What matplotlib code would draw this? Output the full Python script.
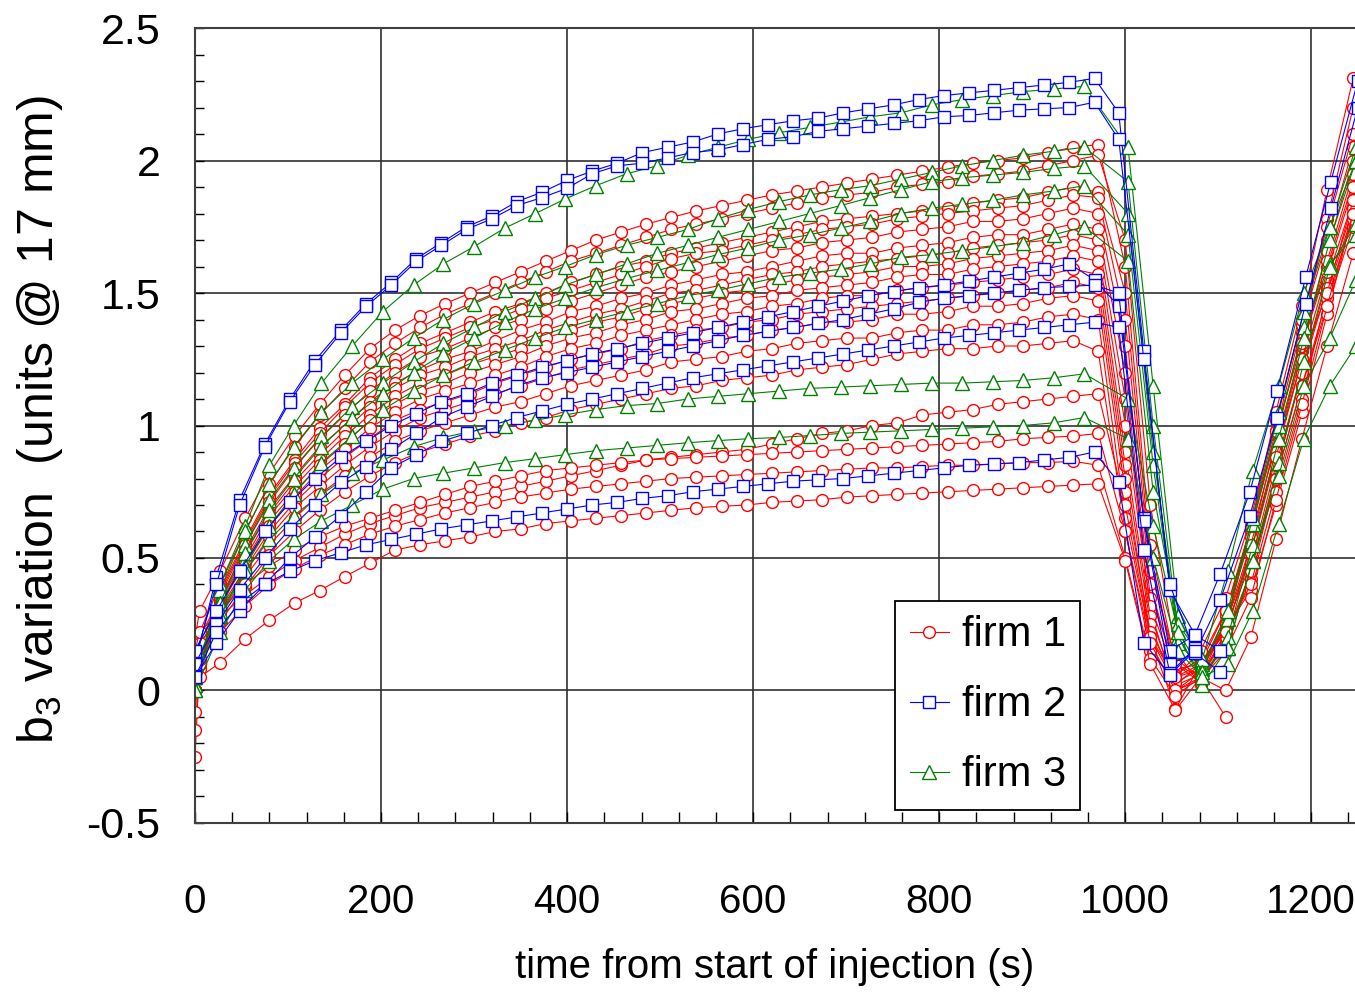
import numpy as np
import matplotlib
matplotlib.use("Agg")
import matplotlib.pyplot as plt
from matplotlib.ticker import MultipleLocator, FuncFormatter

plt.rcParams['font.family'] = ['Liberation Sans', 'DejaVu Sans']
plt.rcParams['mathtext.default'] = 'regular'
nan = np.nan

# sample times (s)
t1 = [0, 5, 27, 54, 80, 107, 134, 161, 188, 215, 242, 269, 296, 323, 350, 377, 404, 431, 458,
      485, 512, 539, 566, 593, 620, 647, 674, 701, 728, 755, 782, 809, 836, 863, 890, 917, 944, 971]
t1_tail = [1000, 1027, 1054, 1081, 1108, 1135, 1162, 1190, 1217, 1245]
t2 = [0, 23, 48, 75, 102, 129, 157, 184, 211, 238, 265, 292, 319, 346, 373, 400, 427, 454, 481,
      508, 535, 562, 589, 616, 643, 670, 697, 724, 751, 778, 805, 832, 859, 886, 913, 940, 967]
t2_tail = [993, 1020, 1048, 1075, 1102, 1134, 1163, 1194, 1221, 1250]
t3 = [0, 27, 54, 80, 106, 136, 169, 202, 235, 267, 300, 333, 366, 398, 431, 464, 497, 530, 562,
      595, 628, 661, 694, 726, 759, 792, 825, 858, 890, 923, 956]
t3_tail = [1003, 1030, 1057, 1083, 1110, 1137, 1165, 1192, 1220, 1248]

# firm 1 (red circles)
firm1_rise = [
    [0.20, 0.30, 0.45, 0.65, 0.82, 0.96, 1.08, 1.19, 1.29, 1.36, 1.415, 1.46, 1.50, 1.54, 1.58, 1.62, 1.66, 1.70, 1.73, 1.76, 1.785, 1.81, 1.83, 1.85, 1.87, 1.885, 1.90, 1.915, 1.93, 1.945, 1.96, 1.975, 1.99, 2.00, 2.01, 2.03, 2.05, 2.06],
    [0.10, 0.22, 0.40, 0.60, 0.78, 0.92, 1.04, 1.14, 1.24, 1.31, 1.37, 1.42, 1.46, 1.50, 1.54, 1.58, 1.62, 1.65, 1.68, 1.71, 1.74, 1.76, 1.78, 1.80, 1.82, 1.84, 1.86, 1.87, 1.88, 1.90, 1.91, 1.92, 1.94, 1.95, 1.96, 1.98, 2.00, 2.02],
    [0.05, 0.15, 0.38, 0.57, 0.74, 0.87, 0.99, 1.08, 1.18, 1.25, 1.31, 1.35, 1.39, 1.43, 1.46, 1.50, 1.54, 1.57, 1.60, 1.62, 1.65, 1.67, 1.69, 1.71, 1.73, 1.75, 1.77, 1.78, 1.79, 1.80, 1.81, 1.82, 1.84, 1.85, 1.86, 1.88, 1.90, 1.88],
    [0.00, 0.12, 0.37, 0.56, 0.73, 0.86, 0.97, 1.07, 1.16, 1.23, 1.29, 1.33, 1.37, 1.40, 1.44, 1.48, 1.51, 1.54, 1.57, 1.60, 1.63, 1.65, 1.66, 1.68, 1.70, 1.72, 1.74, 1.75, 1.76, 1.78, 1.79, 1.80, 1.81, 1.82, 1.83, 1.85, 1.87, 1.86],
    [-0.25, 0.10, 0.36, 0.55, 0.71, 0.84, 0.95, 1.04, 1.13, 1.20, 1.26, 1.29, 1.33, 1.37, 1.40, 1.44, 1.47, 1.50, 1.53, 1.56, 1.58, 1.60, 1.62, 1.64, 1.66, 1.67, 1.69, 1.70, 1.71, 1.73, 1.74, 1.75, 1.77, 1.77, 1.78, 1.80, 1.82, 1.80],
    [0.10, 0.20, 0.35, 0.53, 0.69, 0.81, 0.92, 1.00, 1.09, 1.16, 1.21, 1.25, 1.28, 1.32, 1.36, 1.39, 1.43, 1.45, 1.48, 1.50, 1.53, 1.55, 1.57, 1.58, 1.60, 1.62, 1.64, 1.65, 1.65, 1.67, 1.68, 1.69, 1.71, 1.72, 1.72, 1.74, 1.76, 1.74],
    [0.00, 0.14, 0.34, 0.52, 0.67, 0.79, 0.89, 0.98, 1.07, 1.14, 1.19, 1.22, 1.26, 1.29, 1.32, 1.36, 1.39, 1.42, 1.44, 1.47, 1.50, 1.51, 1.53, 1.55, 1.57, 1.58, 1.60, 1.61, 1.62, 1.63, 1.64, 1.65, 1.67, 1.68, 1.69, 1.70, 1.72, 1.70],
    [-0.15, 0.08, 0.34, 0.50, 0.66, 0.77, 0.87, 0.96, 1.04, 1.11, 1.16, 1.19, 1.23, 1.26, 1.29, 1.33, 1.36, 1.39, 1.41, 1.44, 1.46, 1.48, 1.50, 1.51, 1.53, 1.55, 1.56, 1.57, 1.58, 1.60, 1.60, 1.61, 1.63, 1.64, 1.65, 1.66, 1.68, 1.66],
    [0.05, 0.18, 0.33, 0.49, 0.64, 0.75, 0.85, 0.93, 1.02, 1.08, 1.13, 1.16, 1.20, 1.23, 1.26, 1.30, 1.33, 1.35, 1.38, 1.40, 1.43, 1.44, 1.46, 1.48, 1.49, 1.51, 1.52, 1.53, 1.54, 1.56, 1.57, 1.57, 1.59, 1.60, 1.61, 1.62, 1.64, 1.62],
    [0.00, 0.10, 0.32, 0.48, 0.62, 0.73, 0.83, 0.91, 0.99, 1.05, 1.10, 1.13, 1.16, 1.19, 1.22, 1.26, 1.29, 1.31, 1.34, 1.36, 1.38, 1.40, 1.42, 1.43, 1.45, 1.46, 1.48, 1.49, 1.49, 1.51, 1.52, 1.53, 1.54, 1.55, 1.56, 1.57, 1.59, 1.57],
    [0.12, 0.20, 0.31, 0.46, 0.60, 0.71, 0.80, 0.88, 0.95, 1.02, 1.06, 1.09, 1.12, 1.16, 1.19, 1.22, 1.25, 1.27, 1.29, 1.32, 1.34, 1.36, 1.37, 1.39, 1.40, 1.42, 1.43, 1.44, 1.45, 1.46, 1.47, 1.48, 1.49, 1.50, 1.51, 1.52, 1.54, 1.52],
    [-0.08, 0.10, 0.30, 0.45, 0.58, 0.69, 0.77, 0.85, 0.92, 0.98, 1.03, 1.06, 1.09, 1.12, 1.15, 1.18, 1.21, 1.23, 1.25, 1.27, 1.30, 1.31, 1.33, 1.34, 1.36, 1.37, 1.39, 1.39, 1.40, 1.42, 1.42, 1.43, 1.45, 1.45, 1.46, 1.48, 1.49, 1.47],
    [0.00, 0.10, 0.28, 0.43, 0.55, 0.65, 0.74, 0.81, 0.88, 0.94, 0.98, 1.01, 1.04, 1.07, 1.09, 1.12, 1.15, 1.17, 1.19, 1.21, 1.24, 1.25, 1.26, 1.28, 1.29, 1.31, 1.32, 1.33, 1.33, 1.35, 1.36, 1.36, 1.38, 1.38, 1.39, 1.41, 1.42, 1.40],
    [0.05, 0.12, 0.26, 0.39, 0.51, 0.60, 0.68, 0.75, 0.81, 0.86, 0.90, 0.93, 0.96, 0.98, 1.01, 1.03, 1.06, 1.08, 1.10, 1.12, 1.14, 1.15, 1.17, 1.18, 1.19, 1.21, 1.22, 1.23, 1.25, 1.27, 1.28, 1.29, 1.29, 1.30, 1.30, 1.31, 1.32, 1.28],
    [0.10, 0.18, 0.28, 0.36, 0.43, 0.49, 0.54, 0.59, 0.63, 0.66, 0.69, 0.71, 0.73, 0.75, 0.77, 0.79, 0.81, 0.83, 0.85, 0.87, 0.88, 0.89, 0.90, 0.91, 0.93, 0.95, 0.97, 0.98, 1.00, 1.01, 1.04, 1.05, 1.06, 1.08, 1.09, 1.10, 1.11, 1.12],
    [0.15, 0.22, 0.30, 0.40, 0.47, 0.53, 0.58, 0.62, 0.65, 0.68, 0.71, 0.74, 0.77, 0.79, 0.81, 0.83, 0.84, 0.85, 0.86, 0.87, 0.875, 0.88, 0.885, 0.89, 0.895, 0.90, 0.905, 0.91, 0.915, 0.92, 0.925, 0.93, 0.935, 0.94, 0.95, 0.955, 0.96, 0.97],
    [0.05, 0.12, 0.22, 0.32, 0.40, 0.46, 0.51, 0.55, 0.59, 0.62, 0.645, 0.67, 0.69, 0.71, 0.73, 0.745, 0.76, 0.77, 0.78, 0.79, 0.80, 0.805, 0.81, 0.815, 0.82, 0.825, 0.83, 0.835, 0.84, 0.84, 0.845, 0.85, 0.85, 0.855, 0.86, 0.86, 0.865, 0.85],
    [0.00, 0.05, 0.105, 0.195, 0.265, 0.33, 0.377, 0.43, 0.48, 0.53, 0.55, 0.565, 0.58, 0.60, 0.61, 0.63, 0.64, 0.65, 0.66, 0.67, 0.68, 0.69, 0.695, 0.70, 0.71, 0.715, 0.72, 0.73, 0.735, 0.74, 0.745, 0.75, 0.755, 0.76, 0.765, 0.77, 0.775, 0.78],
]
firm1_tail = [
    [1.60, 0.55, 0.10, 0.05, 0.25, 0.62, 1.05, 1.45, 1.89, 2.31],
    [1.70, 0.70, 0.15, 0.02, 0.20, 0.55, 0.95, 1.35, 1.78, 2.20],
    [1.50, 0.50, 0.08, 0.10, 0.30, 0.60, 0.98, 1.38, 1.70, 2.05],
    [1.40, 0.45, 0.12, 0.05, 0.22, 0.52, 0.90, 1.28, 1.66, 2.00],
    [1.30, 0.40, 0.05, 0.08, 0.28, 0.58, 0.93, 1.30, 1.60, 1.92],
    [1.20, 0.35, 0.10, 0.03, 0.18, 0.45, 0.82, 1.20, 1.55, 1.85],
    [1.10, 0.30, 0.00, 0.07, 0.25, 0.55, 0.90, 1.25, 1.50, 1.80],
    [1.00, 0.32, 0.06, 0.12, 0.30, 0.62, 0.98, 1.31, 1.62, 1.95],
    [0.90, 0.28, 0.02, 0.10, 0.24, 0.48, 0.85, 1.20, 1.52, 1.82],
    [0.85, 0.25, 0.00, 0.05, 0.20, 0.42, 0.80, 1.15, 1.45, 1.75],
    [0.80, 0.20, -0.07, 0.10, 0.25, 0.52, 0.88, 1.25, 1.58, 1.90],
    [0.75, 0.22, 0.05, 0.15, 0.35, 0.65, 1.02, 1.40, 1.75, 2.10],
    [0.65, 0.20, 0.02, 0.06, 0.20, 0.45, 0.80, 1.15, 1.48, 1.78],
    [0.60, 0.15, 0.03, 0.08, 0.23, 0.38, 0.70, 1.05, 1.42, 1.80],
    [0.70, 0.20, 0.05, 0.10, 0.22, 0.40, 0.75, 1.10, 1.50, 1.85],
    [0.60, 0.18, 0.00, 0.04, 0.15, 0.35, 0.72, 1.08, 1.45, 1.80],
    [0.50, 0.12, -0.02, 0.05, -0.10, nan, nan, nan, nan, nan],
    [0.49, 0.10, -0.075, 0.05, 0.00, 0.20, 0.57, 0.95, 1.30, 1.65],
]

# firm 2 (blue squares)
firm2_rise = [
    [0.10, 0.43, 0.72, 0.93, 1.10, 1.245, 1.36, 1.46, 1.54, 1.63, 1.69, 1.75, 1.79, 1.845, 1.88, 1.925, 1.96, 1.99, 2.03, 2.05, 2.07, 2.10, 2.12, 2.135, 2.15, 2.16, 2.18, 2.195, 2.21, 2.23, 2.245, 2.255, 2.265, 2.275, 2.285, 2.295, 2.31],
    [0.12, 0.40, 0.70, 0.92, 1.09, 1.23, 1.35, 1.45, 1.53, 1.62, 1.68, 1.74, 1.78, 1.83, 1.86, 1.895, 1.95, 1.98, 1.99, 2.01, 2.03, 2.04, 2.06, 2.08, 2.09, 2.11, 2.12, 2.13, 2.14, 2.15, 2.165, 2.17, 2.18, 2.19, 2.195, 2.20, 2.22],
    [0.15, 0.30, 0.45, 0.60, 0.71, 0.80, 0.88, 0.94, 1.00, 1.045, 1.09, 1.12, 1.16, 1.19, 1.22, 1.245, 1.27, 1.29, 1.31, 1.33, 1.35, 1.37, 1.39, 1.41, 1.43, 1.45, 1.47, 1.49, 1.505, 1.52, 1.53, 1.545, 1.56, 1.575, 1.59, 1.61, 1.55],
    [0.10, 0.25, 0.38, 0.50, 0.61, 0.70, 0.785, 0.845, 0.91, 0.97, 1.03, 1.07, 1.11, 1.15, 1.18, 1.20, 1.22, 1.24, 1.26, 1.28, 1.30, 1.32, 1.34, 1.355, 1.37, 1.385, 1.40, 1.42, 1.44, 1.465, 1.48, 1.49, 1.50, 1.51, 1.52, 1.525, 1.53],
    [0.05, 0.18, 0.30, 0.40, 0.50, 0.58, 0.66, 0.75, 0.84, 0.89, 0.94, 0.97, 1.00, 1.03, 1.055, 1.08, 1.10, 1.12, 1.14, 1.16, 1.18, 1.195, 1.21, 1.225, 1.24, 1.255, 1.27, 1.285, 1.30, 1.315, 1.33, 1.34, 1.35, 1.36, 1.37, 1.38, 1.39],
    [0.05, 0.22, 0.33, 0.40, 0.45, 0.49, 0.52, 0.55, 0.57, 0.59, 0.61, 0.625, 0.64, 0.655, 0.67, 0.685, 0.70, 0.71, 0.725, 0.735, 0.75, 0.76, 0.77, 0.78, 0.79, 0.795, 0.80, 0.81, 0.82, 0.83, 0.84, 0.85, 0.855, 0.86, 0.87, 0.88, 0.90],
]
firm2_tail = [
    [2.18, 1.28, 0.38, 0.21, 0.44, 0.75, 1.13, 1.56, 1.92, 2.30],
    [2.08, 1.25, 0.40, 0.14, 0.34, 0.66, 1.03, 1.46, 1.82, 2.20],
    [1.45, 0.65, 0.15, 0.21, 0.15, nan, nan, nan, nan, nan],
    [1.50, 0.64, 0.10, 0.14, 0.07, nan, nan, nan, nan, nan],
    [1.37, 0.53, 0.065, 0.16, nan, nan, nan, nan, nan, nan],
    [0.785, 0.18, 0.06, 0.15, nan, nan, nan, nan, nan, nan],
]

# firm 3 (green triangles)
firm3_rise = [
    [0.00, 0.40, 0.62, 0.85, 1.00, 1.16, 1.30, 1.43, 1.53, 1.61, 1.675, 1.745, 1.80, 1.855, 1.905, 1.95, 1.98, 2.02, 2.05, 2.08, 2.105, 2.125, 2.145, 2.165, 2.18, 2.21, 2.23, 2.245, 2.26, 2.27, 2.28],
    [0.05, 0.38, 0.60, 0.78, 0.92, 1.05, 1.16, 1.25, 1.33, 1.40, 1.46, 1.51, 1.56, 1.60, 1.645, 1.68, 1.71, 1.74, 1.78, 1.815, 1.845, 1.87, 1.89, 1.905, 1.93, 1.955, 1.98, 2.00, 2.02, 2.035, 2.05],
    [0.15, 0.33, 0.55, 0.72, 0.84, 0.96, 1.07, 1.16, 1.24, 1.31, 1.37, 1.43, 1.48, 1.53, 1.57, 1.61, 1.65, 1.68, 1.71, 1.74, 1.77, 1.80, 1.83, 1.86, 1.89, 1.92, 1.935, 1.945, 1.955, 1.97, 1.98],
    [0.10, 0.30, 0.52, 0.68, 0.80, 0.92, 1.03, 1.12, 1.20, 1.27, 1.33, 1.39, 1.44, 1.48, 1.52, 1.555, 1.585, 1.615, 1.645, 1.67, 1.70, 1.72, 1.745, 1.77, 1.80, 1.82, 1.835, 1.85, 1.87, 1.885, 1.905],
    [0.02, 0.28, 0.47, 0.62, 0.74, 0.86, 0.96, 1.06, 1.13, 1.19, 1.24, 1.285, 1.33, 1.37, 1.40, 1.43, 1.46, 1.49, 1.51, 1.535, 1.56, 1.575, 1.59, 1.61, 1.635, 1.645, 1.66, 1.675, 1.69, 1.72, 1.75],
    [0.05, 0.28, 0.45, 0.57, 0.66, 0.74, 0.82, 0.87, 0.92, 0.955, 0.98, 1.00, 1.02, 1.04, 1.06, 1.075, 1.083, 1.10, 1.11, 1.12, 1.13, 1.14, 1.145, 1.15, 1.155, 1.16, 1.16, 1.165, 1.17, 1.18, 1.195],
    [0.00, 0.22, 0.38, 0.49, 0.57, 0.64, 0.70, 0.76, 0.80, 0.82, 0.84, 0.86, 0.875, 0.89, 0.905, 0.915, 0.925, 0.935, 0.943, 0.95, 0.955, 0.962, 0.97, 0.975, 0.98, 0.985, 0.99, 0.995, 1.00, 1.01, 1.03],
]
firm3_tail = [
    [2.05, 1.15, 0.28, 0.10, 0.27, 0.63, 1.00, 1.37, 1.61, 1.72],
    [1.92, 1.00, 0.22, 0.02, 0.16, 0.49, 0.86, 1.24, 1.60, 1.76],
    [1.80, 0.90, 0.20, 0.05, 0.20, 0.55, 0.95, 1.33, 1.70, 2.00],
    [1.72, 0.85, 0.18, 0.08, 0.30, 0.65, 1.05, 1.43, 1.75, 2.05],
    [1.62, 0.75, 0.25, 0.12, 0.45, 0.83, 1.15, 1.50, 1.75, 2.00],
    [1.10, 0.62, 0.22, 0.07, 0.16, 0.49, 0.81, 1.15, 1.33, 1.55],
    [0.95, 0.50, 0.15, 0.05, 0.10, 0.30, 0.63, 0.95, 1.15, 1.30],
]

labels = ['firm 1', 'firm 2', 'firm 3']

fig = plt.figure(figsize=(13.55, 9.93), dpi=100)
ax = fig.add_axes([0.1439, 0.1712, 0.8561, 0.8006])

firms = [
    (t1, t1_tail, firm1_rise, firm1_tail, '#ff0000', 'o', 8.5),
    (t3, t3_tail, firm3_rise, firm3_tail, '#008000', '^', 10),
    (t2, t2_tail, firm2_rise, firm2_tail, '#0000ff', 's', 9),
]
handles = {}
for tr, tt, rise, tail, col, mk, ms in firms:
    for r, tl in zip(rise, tail):
        assert len(r) == len(tr) and len(tl) == len(tt)
        line, = ax.plot(tr + tt, r + tl, color=col, lw=0.8, marker=mk, ms=ms,
                        mfc='white', mec=col, mew=1.0)
    handles[col] = line

ax.set_xlim(0, 1247)
ax.set_ylim(-0.5, 2.5)
ax.xaxis.set_major_locator(MultipleLocator(200))
ax.xaxis.set_minor_locator(MultipleLocator(40))
ax.yaxis.set_major_locator(MultipleLocator(0.5))
ax.yaxis.set_minor_locator(MultipleLocator(0.1))
ax.yaxis.set_major_formatter(FuncFormatter(lambda v, p: f"{v:g}"))
ax.grid(True, which='major', color='#303030', lw=1.2)
ax.tick_params(axis='y', which='both', direction='in', length=6.5, width=1, pad=25, labelsize=31)
ax.tick_params(axis='x', which='both', direction='in', length=8, width=1, pad=43, labelsize=29)
for s in ['left', 'bottom', 'top']:
    ax.spines[s].set_color('#404040')
    ax.spines[s].set_linewidth(1.5)
ax.spines['right'].set_visible(False)

ax.set_xlabel('time from start of injection (s)', fontsize=29, labelpad=20)
ax.set_ylabel('b$_3$ variation  (units @ 17 mm)', fontsize=36)
ax.yaxis.set_label_coords(-0.112, 0.507)

leg = ax.legend([handles['#ff0000'], handles['#0000ff'], handles['#008000']], labels,
                loc='lower left', bbox_to_anchor=(0.6034, 0.0164), borderaxespad=0,
                prop={'size': 30}, fancybox=False, framealpha=1,
                edgecolor='black', borderpad=0.35, labelspacing=0.72,
                handlelength=0.95, handletextpad=0.3, numpoints=1)
leg.get_frame().set_linewidth(1.3)

fig.savefig('out.png', dpi=100)
